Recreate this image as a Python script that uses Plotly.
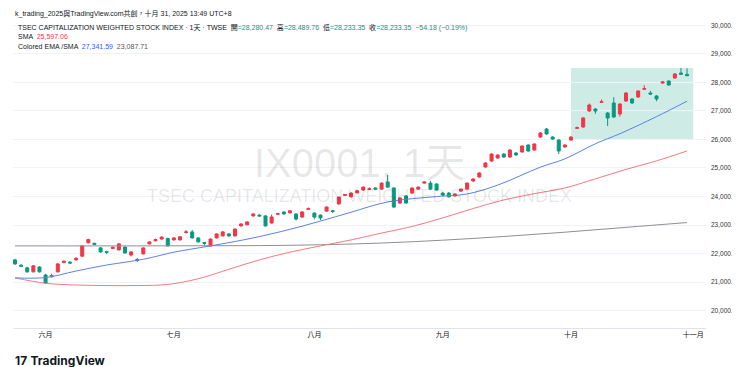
import plotly.graph_objects as go

# ---- data (trading-day index 0..110, late May -> Oct 31, 2025) ----
opens = [21780,21590,21500,21360,21530,21250,21190,21360,21690,21700,
         21780,21910,22380,22360,22200,22070,22180,22130,22230,21950,
         21790,21990,22340,22450,22510,22530,22480,22480,22740,22760,
         22550,22390,22270,22550,22620,22690,22620,22970,23010,23320,
         23350,23320,23074,23380,23460,23430,23390,23280,23550,23420,
         23350,23490,23500,23740,24040,23990,24130,24230,24250,24300,
         24260,24510,24300,23770,24020,24120,24260,24470,24470,24440,
         24120,24120,24020,24190,24260,24545,24685,25035,25245,25350,
         25490,25385,25525,25560,25806,25630,26086,26366,26086,25981,
         25736,25981,26390,26436,26997,27067,27300,26927,27277,26892,
         27347,27418,27488,27760,27628,27523,27978,28048,28153,28329,
         28280.47]
highs = [21820,21640,21540,21600,21560,21290,21300,21660,21760,21730,
         21880,22290,22520,22380,22230,22100,22250,22370,22250,22080,
         21850,22220,22430,22520,22600,22560,22570,22610,22830,22830,
         22560,22400,22530,22710,22790,22710,22880,23060,23130,23410,
         23380,23340,23370,23430,23480,23520,23400,23480,23620,23450,
         23370,23660,23520,24000,24090,24150,24230,24350,24320,24320,
         24490,24755,24320,23970,24040,24320,24350,24530,24550,24460,
         24150,24160,24110,24280,24490,24640,24850,25200,25510,25480,
         25510,25660,25560,25790,25830,25860,26260,26400,26110,26000,
         25830,26110,26450,26780,27260,27090,27400,26960,27480,27270,
         27660,27440,27720,27900,27700,27550,28040,28070,28320,28504,
         28489.76]
lows = [21600,21530,21330,21340,21340,20940,21160,21340,21660,21640,
        21760,21890,22360,22300,22030,21980,22160,22110,22000,21900,
        21700,21970,22320,22430,22490,22250,22460,22460,22700,22530,
        22390,22280,22250,22530,22600,22600,22600,22950,22990,23300,
        23290,22950,23050,23360,23370,23410,23160,23260,23530,23200,
        23170,23470,23420,23720,24020,23970,24110,24200,24230,24240,
        24240,24310,23610,23750,23750,24100,24240,24450,24240,24210,
        24030,23960,24000,24170,24240,24520,24660,25010,25220,25330,
        25360,25360,25430,25540,25570,25610,26060,26170,25990,25490,
        25710,25960,26370,26410,26970,26900,27290,26471,26760,26800,
        27320,27250,27460,27740,27560,27340,27950,27880,28130,28260,
        28233.35]
closes = [21640,21560,21360,21570,21360,20970,21230,21640,21730,21670,
          21830,22270,22490,22320,22060,22050,22220,22340,22020,22060,
          21770,22200,22410,22490,22580,22270,22550,22590,22760,22550,
          22410,22360,22510,22690,22760,22620,22860,23040,23110,23390,
          23320,22970,23284,23400,23390,23500,23210,23460,23570,23280,
          23250,23630,23480,23980,24070,24120,24200,24330,24270,24260,
          24470,24330,23630,23950,23770,24300,24330,24510,24260,24230,
          24050,23990,24090,24260,24470,24615,24825,25175,25490,25455,
          25385,25630,25455,25770,25595,25841,26226,26191,26016,25595,
          25806,26086,26410,26752,27207,26997,27320,26752,26787,27242,
          27628,27277,27698,27780,27593,27418,28013,27908,28294,28287.53,
          28233.35]

sma_idx = [0,5,10,15,20,25,30,35,40,45,50,55,60,65,70,75,80,85,90,95,100,105,110]
sma_val = [21150,20960,20900,20880,20880,20920,21120,21450,21780,22050,22270,22480,
           22720,22950,23250,23580,23880,24100,24300,24620,24950,25250,25597.06]

ema_idx = [0,5,10,15,21,26,32,39,45,50,55,61,69,74,79,86,90,95,99,105,110]
ema_val = [21150,21160,21390,21600,21800,22050,22270,22550,22850,23140,23450,23810,
           24000,24090,24400,25030,25320,25850,26200,26800,27341.59]

gsma_idx = [0,10,20,30,40,50,60,70,80,90,100,110]
gsma_val = [22270,22270,22270,22275,22280,22310,22370,22470,22600,22750,22920,23087.71]

month_pos = [5, 26, 49, 70, 91, 111]
month_txt = ["六月", "七月", "八月", "九月", "十月", "十一月"]

y_ticks = list(range(20000, 30001, 1000))

UP = "#f23645"
DOWN = "#089981"
FONT = "Liberation Sans, Noto Sans CJK TC, sans-serif"

x = list(range(len(opens)))

fig = go.Figure()
fig.add_trace(go.Scatter(x=gsma_idx, y=gsma_val, mode="lines",
                         line=dict(color="#8f8f8f", width=1, shape="spline"),
                         hoverinfo="skip"))
fig.add_trace(go.Scatter(x=sma_idx, y=sma_val, mode="lines",
                         line=dict(color="#f47a80", width=1, shape="spline"),
                         hoverinfo="skip"))
fig.add_trace(go.Scatter(x=ema_idx, y=ema_val, mode="lines",
                         line=dict(color="#5b82e6", width=1, shape="spline"),
                         hoverinfo="skip"))
fig.add_trace(go.Candlestick(
    x=x, open=opens, high=highs, low=lows, close=closes,
    increasing=dict(line=dict(color=UP, width=1), fillcolor=UP),
    decreasing=dict(line=dict(color=DOWN, width=1), fillcolor=DOWN),
    whiskerwidth=0))

# highlight rectangle
fig.add_shape(type="rect", xref="x", yref="y", x0=91, x1=111, y0=26000, y1=28500,
              fillcolor="rgba(8,153,129,0.2)", line=dict(width=0), layer="below")

L, R, T, B = 5, 42, 10, 47
PW, PH = 740 - L - R, 367 - T - B


def px(xp):
    return (xp - L) / PW


def py(yp):
    return (367 - B - yp) / PH


ann = []
# watermark
ann.append(dict(x=0.5, y=py(155), text="IX0001, 1天", showarrow=False,
                font=dict(family=FONT, size=40, color="rgba(0,0,0,0.1)"),
                xref="paper", yref="paper", xanchor="center", yanchor="middle"))
ann.append(dict(x=0.5, y=py(188), text="TSEC CAPITALIZATION WEIGHTED STOCK INDEX",
                showarrow=False,
                font=dict(family=FONT, size=18, color="rgba(0,0,0,0.1)"),
                xref="paper", yref="paper", xanchor="center", yanchor="middle"))

DK = "#131722"
GR = "#089981"
hdr = [
    (6, "k_trading_2025與TradingView.com共創，十月 31, 2025 13:49 UTC+8", 5),
    (19, "TSEC CAPITALIZATION WEIGHTED STOCK INDEX · 1天 · TWSE  "
         f"開<span style='color:{GR}'>=28,280.47</span>  高<span style='color:{GR}'>=28,489.76</span>  "
         f"低<span style='color:{GR}'>=28,233.35</span>  收<span style='color:{GR}'>=28,233.35</span>  "
         f"<span style='color:{GR}'>−54.18 (−0.19%)</span>", 8),
    (29, f"SMA  <span style='color:{UP}'>25,597.06</span>", 8),
    (39, "Colored EMA /SMA  <span style='color:#2962ff'>27,341.59</span>  "
         "<span style='color:#555'>23,087.71</span>", 8),
]
for yy, t, xx in hdr:
    ann.append(dict(x=px(xx), y=py(yy), text=t, showarrow=False, xref="paper", yref="paper",
                    xanchor="left", yanchor="middle",
                    font=dict(family=FONT, size=7, color=DK)))

# logo
ann.append(dict(x=px(5), y=py(352), text="<b>17</b> <b>TradingView</b>", showarrow=False,
                xref="paper", yref="paper", xanchor="left", yanchor="middle",
                font=dict(family="Inter, Liberation Sans", size=12, color=DK)))

fig.update_layout(
    width=740, height=367,
    margin=dict(l=L, r=R, t=T, b=B),
    paper_bgcolor="white", plot_bgcolor="white",
    showlegend=False,
    annotations=ann,
    font=dict(family=FONT, size=7, color=DK),
    xaxis=dict(range=[-0.33, 113.1], rangeslider=dict(visible=False),
               tickmode="array", tickvals=month_pos, ticktext=month_txt,
               showgrid=False, zeroline=False, ticks="", showline=True,
               linecolor="#e0e3eb", linewidth=1,
               tickfont=dict(family="Noto Sans CJK TC", size=7, color=DK)),
    yaxis=dict(range=[19393, 30256], side="right", tickmode="array",
               tickvals=y_ticks, tickformat=",.2f",
               showgrid=True, gridcolor="#f0f3fa", gridwidth=1,
               zeroline=False, ticks="", ticklabelstandoff=4,
               tickfont=dict(family=FONT, size=6.5, color="#333")),
)

fig.write_html("out.html")
